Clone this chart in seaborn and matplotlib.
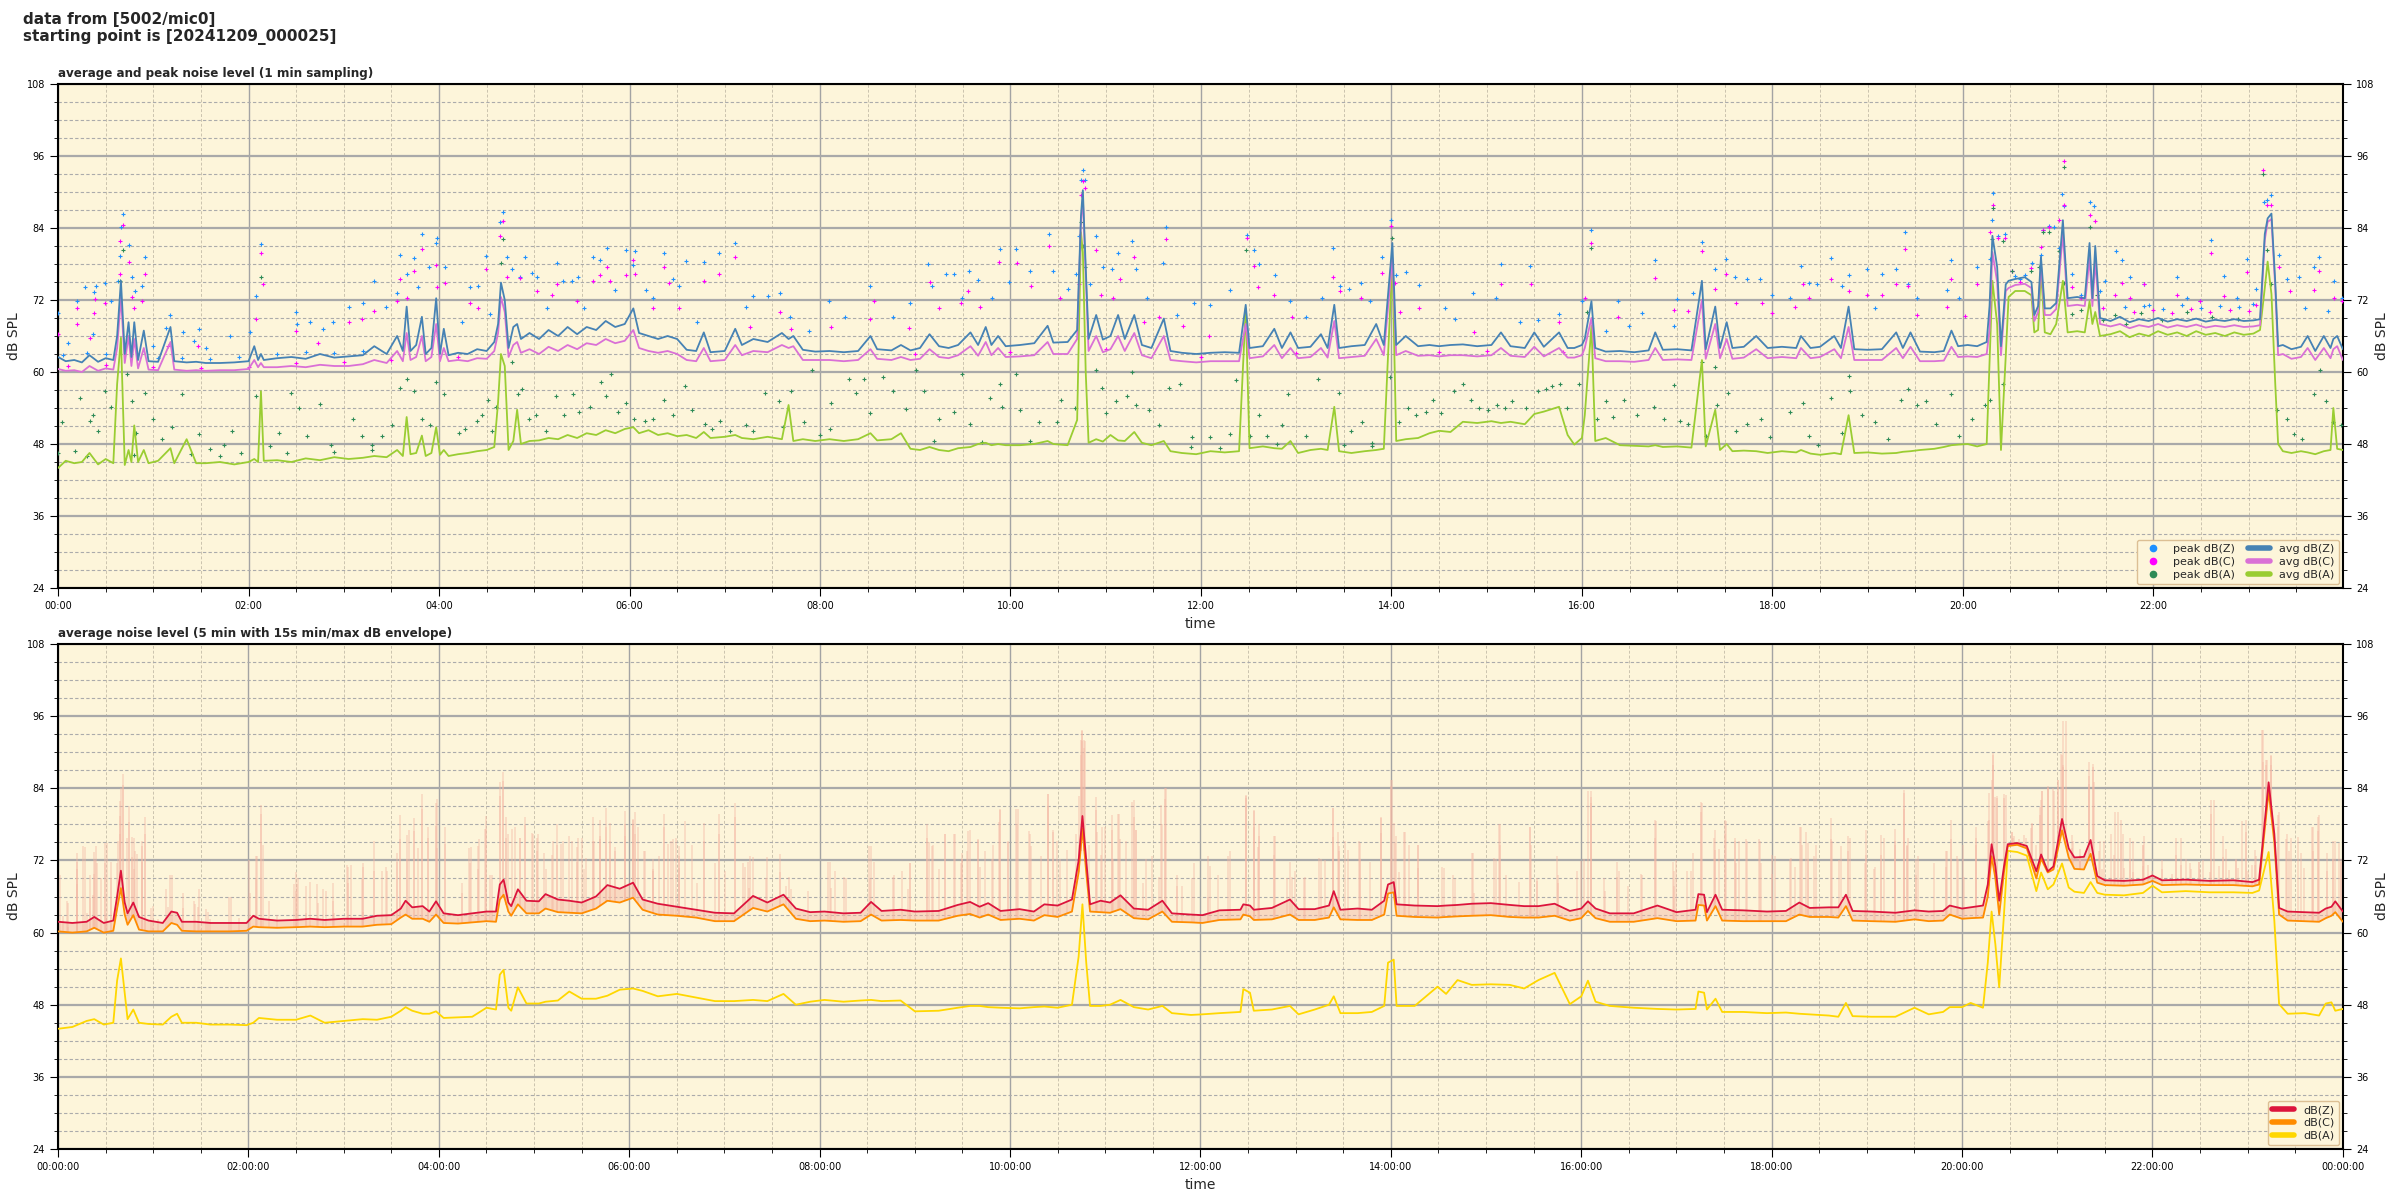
import numpy as np
import pandas as pd
import matplotlib
matplotlib.use("Agg")
import matplotlib.pyplot as plt
import seaborn as sns
from matplotlib.ticker import MultipleLocator, FuncFormatter
from matplotlib.lines import Line2D

# ---------------- data: top panel, 1 min averages (hours, dB) ----------------
top_t = [0.00,0.08,0.17,0.25,0.33,0.42,0.50,0.58,0.62,0.66,
         0.70,0.74,0.77,0.80,0.84,0.90,0.95,1.05,1.18,1.22,
         1.35,1.45,1.55,1.70,1.85,2.00,2.06,2.10,2.13,2.16,
         2.30,2.45,2.60,2.75,2.90,3.05,3.20,3.32,3.45,3.56,
         3.62,3.66,3.70,3.76,3.82,3.86,3.92,3.97,4.01,4.05,
         4.10,4.20,4.30,4.40,4.50,4.58,4.62,4.65,4.69,4.73,
         4.78,4.82,4.86,4.95,5.05,5.15,5.25,5.35,5.45,5.55,
         5.65,5.75,5.85,5.95,6.04,6.10,6.20,6.30,6.40,6.50,
         6.60,6.70,6.78,6.85,7.00,7.11,7.18,7.30,7.45,7.60,
         7.67,7.72,7.82,7.95,8.10,8.25,8.40,8.53,8.60,8.75,
         8.85,8.95,9.05,9.15,9.25,9.35,9.45,9.58,9.66,9.74,
         9.80,9.87,9.95,10.10,10.25,10.39,10.45,10.60,10.70,10.74,
         10.76,10.79,10.82,10.90,10.97,11.05,11.13,11.20,11.30,11.38,
         11.48,11.61,11.68,11.80,11.95,12.10,12.25,12.40,12.47,12.51,
         12.65,12.77,12.85,12.94,13.02,13.15,13.26,13.33,13.40,13.45,
         13.58,13.72,13.84,13.92,14.01,14.05,14.15,14.28,14.40,14.50,
         14.62,14.75,14.90,15.05,15.15,15.25,15.40,15.50,15.60,15.76,
         15.85,15.92,16.00,16.03,16.10,16.14,16.25,16.40,16.55,16.70,
         16.77,16.85,17.00,17.15,17.26,17.30,17.40,17.45,17.52,17.58,
         17.70,17.83,17.95,18.10,18.25,18.30,18.40,18.50,18.65,18.72,
         18.80,18.86,19.00,19.15,19.30,19.37,19.45,19.55,19.70,19.80,
         19.88,19.95,20.05,20.15,20.25,20.28,20.31,20.36,20.40,20.45,
         20.48,20.55,20.65,20.72,20.75,20.79,20.82,20.86,20.92,20.98,
         21.05,21.10,21.20,21.28,21.33,21.36,21.39,21.44,21.55,21.65,
         21.75,21.85,21.95,22.05,22.15,22.25,22.35,22.45,22.55,22.65,
         22.75,22.85,22.95,23.05,23.12,23.17,23.20,23.24,23.28,23.31,
         23.36,23.45,23.55,23.62,23.70,23.79,23.86,23.89,23.93,23.99]
top_z = [62.5,61.8,62.0,61.6,62.8,61.7,62.3,62.0,66.0,75.2,
         63.0,68.3,62.5,68.3,62.0,66.9,61.8,61.7,67.5,61.8,
         61.6,61.7,61.5,61.5,61.6,61.8,64.3,62.0,63.0,62.0,
         62.3,62.5,62.2,63.0,62.4,62.6,62.8,64.3,63.0,66.0,
         63.5,70.9,63.5,64.5,69.2,63.0,64.0,72.3,63.0,67.2,
         62.8,63.2,63.0,63.8,63.5,65.0,68.0,74.9,72.0,64.0,
         67.5,68.0,65.5,66.5,65.5,67.0,66.0,67.5,66.3,67.5,
         67.0,68.5,67.5,68.0,70.6,66.5,66.0,65.5,66.0,65.5,
         63.7,63.5,66.6,63.3,63.5,67.2,64.5,65.5,65.0,66.5,
         65.5,66.0,63.7,63.4,63.5,63.3,63.5,66.0,63.8,63.6,
         64.5,63.6,64.0,66.3,64.3,64.0,64.5,66.6,64.5,67.5,
         64.5,66.0,64.3,64.5,64.8,67.7,64.9,65.0,67.0,86.0,
         90.3,77.5,65.5,69.5,65.4,66.0,69.5,65.5,69.5,64.5,
         64.0,68.9,63.5,63.2,63.0,63.2,63.3,63.2,71.2,64.0,
         64.3,67.2,64.0,66.6,64.0,64.2,66.3,64.0,71.2,64.0,
         64.3,64.5,68.0,64.5,81.5,64.5,66.0,64.3,64.5,64.3,
         64.5,64.6,64.3,64.5,66.6,64.3,64.0,66.6,64.2,66.6,
         64.0,64.0,64.5,65.5,71.8,64.0,63.4,63.5,63.3,63.6,
         66.6,63.7,63.8,63.6,75.2,63.8,70.9,64.0,68.3,64.0,
         64.2,66.0,64.0,64.2,64.0,66.0,64.0,64.2,66.0,64.0,
         70.9,63.8,63.7,63.8,66.6,64.0,66.6,63.4,63.3,63.5,
         66.9,64.3,64.5,64.3,65.0,71.0,82.7,77.5,64.3,74.6,
         75.2,75.5,75.8,75.0,69.5,71.0,79.2,70.6,70.6,71.5,
         85.3,72.3,72.5,72.3,81.5,72.3,81.0,69.0,68.5,69.2,
         68.3,68.8,68.5,69.0,68.4,68.8,68.5,68.9,68.4,68.7,
         68.5,68.8,68.5,68.6,68.8,83.0,85.6,86.4,75.0,64.3,
         64.5,63.8,64.2,66.0,63.5,66.0,64.0,65.5,66.0,63.8]
top_c = [60.5,60.2,60.3,60.0,61.0,60.2,60.6,60.4,64.0,72.5,
         61.5,66.0,61.0,65.5,60.6,64.0,60.4,60.3,65.0,60.4,
         60.2,60.3,60.2,60.3,60.3,60.5,62.0,60.8,61.5,60.8,
         60.8,61.0,60.8,61.2,61.0,61.0,61.3,62.0,61.5,63.5,
         61.8,66.5,62.0,62.5,66.0,61.8,62.5,68.0,61.8,64.0,
         61.8,62.0,61.8,62.3,62.2,63.5,66.5,72.5,70.0,62.5,
         64.5,65.0,63.2,63.8,63.0,64.2,63.5,64.5,63.8,64.8,
         64.5,65.5,64.8,65.2,67.0,64.0,63.5,63.2,63.5,63.0,
         62.0,61.8,64.0,61.8,62.0,64.5,62.8,63.5,63.3,64.5,
         64.0,64.3,62.0,62.0,62.0,61.8,62.0,63.8,62.2,62.0,
         62.5,62.0,62.2,63.8,62.5,62.3,62.8,64.3,62.7,65.0,
         62.8,64.0,62.5,62.6,62.8,65.0,63.0,63.0,65.5,85.0,
         89.0,76.0,63.5,66.0,63.3,63.8,66.0,63.5,66.5,62.8,
         62.3,66.0,62.0,61.8,61.6,61.8,61.8,61.8,68.0,62.3,
         62.6,64.5,62.3,64.0,62.3,62.5,64.0,62.4,68.5,62.3,
         62.5,62.7,65.5,62.8,79.0,62.8,63.5,62.7,62.8,62.6,
         62.8,62.8,62.6,62.8,64.0,62.7,62.5,64.2,62.6,64.0,
         62.4,62.4,62.8,64.0,69.0,62.3,61.8,61.8,61.7,62.0,
         64.0,62.0,62.1,62.0,72.0,62.2,68.0,62.3,65.5,62.2,
         62.4,63.8,62.3,62.5,62.3,64.0,62.3,62.5,63.8,62.3,
         67.5,62.0,62.0,62.0,64.0,62.3,64.2,61.8,61.8,61.9,
         64.2,62.5,62.6,62.5,63.0,67.0,80.0,75.0,62.8,73.5,
         74.0,74.5,74.7,74.0,68.5,70.0,78.0,69.5,69.5,70.5,
         83.0,71.0,71.2,71.0,79.0,71.0,78.5,68.0,67.6,68.0,
         67.3,67.8,67.5,68.0,67.4,67.8,67.5,67.9,67.4,67.7,
         67.5,67.8,67.5,67.6,67.8,82.0,85.0,85.5,74.0,62.8,
         63.0,62.2,62.5,64.0,62.0,64.0,62.3,63.8,64.3,62.0]
top_a = [44.0,45.2,44.8,45.0,46.5,44.6,45.5,44.8,58.0,65.7,
         44.5,47.0,45.0,51.1,45.0,47.0,44.8,45.2,47.3,44.8,
         48.8,44.8,44.8,45.0,44.6,45.0,45.5,45.0,56.8,45.2,
         45.3,45.0,45.6,45.3,45.8,45.5,45.7,46.0,45.8,47.0,
         46.0,52.5,46.3,46.5,49.4,46.0,46.5,50.8,46.2,47.0,
         46.0,46.3,46.5,46.8,47.0,47.5,55.0,63.0,61.0,47.0,
         48.5,53.7,48.0,48.5,48.6,49.0,48.8,49.5,49.0,49.8,
         49.5,50.3,49.8,50.5,50.8,49.8,50.3,49.5,49.8,49.3,
         49.5,49.0,50.0,49.0,49.2,49.5,49.0,48.8,49.2,48.8,
         54.5,48.5,48.8,48.5,48.8,48.5,48.8,49.8,48.6,48.8,
         49.8,47.2,47.0,47.5,47.0,46.8,47.3,47.5,48.0,48.2,
         47.8,48.0,47.8,47.8,48.0,48.5,48.0,47.8,52.0,83.3,
         80.0,60.0,48.2,48.8,48.4,49.5,48.6,48.5,50.0,48.2,
         47.8,48.5,46.8,46.5,46.3,46.8,46.6,46.8,70.6,47.3,
         47.6,47.3,47.2,48.5,46.5,47.0,47.2,47.0,54.2,46.8,
         46.5,46.8,47.0,47.2,78.7,48.5,48.8,49.0,49.8,50.2,
         50.0,51.7,51.5,51.8,51.5,51.7,51.3,53.0,53.4,54.2,
         49.5,47.9,49.0,52.8,67.7,48.5,49.0,47.8,47.7,47.6,
         47.8,47.5,47.6,47.4,62.0,47.6,53.7,47.0,48.0,46.8,
         46.9,46.8,46.5,46.8,46.6,47.0,46.4,46.2,46.5,46.3,
         52.8,46.5,46.6,46.4,46.5,46.7,46.8,47.0,47.2,47.5,
         47.8,47.9,48.0,47.6,48.0,61.4,75.2,68.0,47.0,62.6,
         72.5,73.5,73.5,72.8,66.6,67.0,76.9,66.6,66.3,68.0,
         75.2,66.6,66.8,66.6,71.8,68.0,70.0,66.0,66.3,66.8,
         65.8,66.4,66.0,66.8,66.2,66.6,66.0,66.8,66.2,66.5,
         66.0,66.6,66.2,66.4,67.0,74.0,78.4,73.0,58.0,48.0,
         46.8,46.5,46.8,46.6,46.3,46.8,47.0,54.0,47.2,47.0]

# ---------------- data: top panel, 1 min peaks (hours, dB) ----------------
peak_z = [(0.00,69.8),(0.10,64.9),(0.20,71.8),(0.28,74.2),(0.37,66.3),(0.38,73.4),(0.40,74.4),(0.49,74.9),
          (0.56,71.8),(0.63,75.2),(0.65,79.4),(0.66,84.1),(0.68,86.3),(0.74,81.1),(0.78,75.9),(0.81,73.5),
          (0.88,74.4),(0.91,79.2),(1.00,64.4),(1.13,67.3),(1.18,69.5),(1.31,66.6),(1.43,65.2),(1.48,67.2),
          (1.55,64.0),(1.80,66.0),(2.02,66.6),(2.08,72.7),(2.13,81.3),(2.50,70.0),(2.51,68.0),(2.65,68.4),
          (2.78,67.2),(2.89,68.3),(3.05,70.9),(3.20,71.5),(3.32,75.2),(3.44,70.9),(3.56,73.2),(3.59,79.5),
          (3.66,76.3),(3.74,79.0),(3.78,74.1),(3.82,83.0),(3.89,77.5),(3.97,81.5),(3.98,82.3),(4.06,77.5),
          (4.24,68.3),(4.32,74.1),(4.41,74.4),(4.49,79.4),(4.54,69.6),(4.64,85.0),(4.67,86.7),(4.71,79.2),
          (4.77,77.2),(4.85,75.8),(4.90,79.2),(4.98,76.5),(5.03,75.8),(5.13,70.6),(5.24,78.1),(5.30,75.2),
          (5.40,75.2),(5.46,75.8),(5.52,70.6),(5.62,79.2),(5.69,78.7),(5.76,80.7),(5.85,73.6),(5.96,80.3),
          (6.04,77.9),(6.06,80.1),(6.17,73.6),(6.25,72.3),(6.36,79.8),(6.46,75.5),(6.52,74.4),(6.59,78.5),
          (6.71,68.3),(6.78,78.3),(6.94,79.8),(7.11,81.5),(7.22,70.9),(7.30,72.6),(7.45,72.6),(7.58,73.1),
          (7.68,69.2),(0.05,62.8),(0.30,63.2),(0.50,63.0),(1.05,62.3),(1.30,62.3),(1.60,62.2),(1.90,62.5),
          (2.30,63.0),(2.60,63.3),(2.90,63.2),(3.20,63.5),
          (7.88,66.9),(8.09,71.8),(8.26,69.2),(8.52,74.4),(8.77,69.2),(8.95,71.5),(9.13,78.0),(9.18,74.4),
          (9.32,76.4),(9.41,76.4),(9.49,72.3),(9.56,76.9),(9.66,75.4),(9.81,72.3),(9.89,80.5),(9.98,75.0),
          (10.06,80.5),(10.20,76.9),(10.40,83.0),(10.45,76.8),(10.60,73.8),(10.69,76.4),(10.72,82.7),
          (10.74,92.0),(10.76,93.6),(10.78,92.0),(10.83,74.6),(10.90,82.6),(10.97,77.5),(11.07,77.1),
          (11.13,79.8),(11.28,81.8),(11.32,77.1),(11.43,72.3),(11.60,78.1),(11.63,84.1),(11.75,69.5),
          (11.93,71.5),(12.10,71.1),(12.31,73.6),(12.48,82.8),(12.56,80.3),(12.61,78.0),(12.78,76.1),
          (12.94,71.8),(13.10,69.2),(13.27,72.3),(13.39,80.7),(13.46,74.4),(13.55,73.8),(13.68,74.9),
          (13.78,71.8),(13.90,79.1),(14.00,85.4),(14.05,76.1),(14.15,76.7),(14.29,74.5),(14.56,70.7),
          (14.67,68.9),(14.86,73.2),(15.10,72.3),(15.15,78.0),(15.35,68.4),(15.46,77.6),(15.54,68.6),
          (15.76,69.6),(16.00,71.9),(16.10,83.6),
          (16.25,66.9),(16.38,71.8),(16.49,67.7),(16.63,69.8),(16.77,78.7),(16.97,67.7),(17.00,72.1),
          (17.17,73.2),(17.26,81.7),(17.40,77.1),(17.51,78.8),(17.61,75.8),(17.73,75.5),(17.87,75.5),
          (18.00,72.9),(18.19,72.3),(18.30,77.6),(18.38,74.9),(18.47,74.6),(18.62,79.0),(18.73,74.4),
          (18.80,76.1),(18.99,77.1),(19.08,70.6),(19.15,76.3),(19.30,77.2),(19.39,83.3),(19.42,74.6),
          (19.52,72.3),(19.83,73.6),(19.88,78.7),(19.96,72.3),(20.15,77.5),(20.28,78.8),(20.31,85.3),
          (20.32,89.9),(20.37,82.7),(20.44,83.0),(20.52,76.8),(20.60,75.5),(20.73,78.1),(20.82,79.5),
          (20.84,83.6),(20.90,84.4),(20.96,84.1),(21.01,80.7),(21.04,89.7),(21.06,87.6),(21.15,76.3),
          (21.24,72.9),(21.33,88.3),(21.38,87.6),(21.44,73.5),(21.49,75.2),(21.61,80.1),(21.67,78.7),
          (21.76,75.8),(21.90,74.6),(21.95,71.2),(22.25,75.8),(22.35,72.3),(22.49,71.8),(22.61,82.0),
          (22.74,76.0),(22.88,72.3),(22.98,78.8),(23.08,73.8),(23.16,88.4),(23.19,88.7),(23.24,89.5),
          (23.32,79.5),(23.40,75.5),(23.53,75.9),(23.59,70.7),(23.69,77.5),(23.74,79.2),(23.83,70.2),
          (23.90,75.2),(23.98,72.3),(21.70,70.8),(21.90,71.0),(22.10,70.5),(22.30,71.2),(22.50,70.6),
          (22.70,71.0),(22.90,70.8),(23.05,71.3),(20.55,76.0),(20.65,76.2)]

peak_c = [(0.00,66.3),(0.20,68.0),(0.20,70.6),(0.38,69.8),(0.39,72.1),(0.34,65.7),(0.49,71.5),(0.65,76.4),
          (0.65,81.9),(0.68,84.5),(0.74,78.4),(0.78,72.5),(0.80,70.6),(0.88,71.8),(0.91,76.4),(1.15,64.3),
          (1.47,64.3),(2.08,68.9),(2.13,79.8),(2.15,74.6),(2.50,66.9),(2.73,64.9),(3.05,68.3),(3.19,68.9),
          (3.32,70.2),(3.56,71.8),(3.59,75.5),(3.66,72.3),(3.74,76.9),(3.82,80.5),(3.97,77.8),(3.98,74.1),
          (4.06,74.8),(4.33,71.5),(4.41,70.6),(4.49,77.2),(4.64,82.7),(4.67,85.2),(4.71,75.8),(4.85,75.7),
          (5.03,73.5),(5.19,72.9),(5.24,74.6),(5.45,71.8),(5.62,75.2),(5.69,76.1),(5.76,77.5),(5.80,75.2),
          (5.96,76.1),(6.04,78.7),(6.06,76.4),(6.25,70.6),(6.36,77.5),(6.41,74.8),(6.52,70.7),(6.78,75.2),
          (6.94,76.4),(7.11,79.2),(7.26,67.5),(7.58,70.0),(7.70,67.2),(0.10,61.0),(0.50,61.2),(1.00,60.8),
          (1.50,60.6),(2.00,60.9),(2.50,61.5),(3.00,61.6),(3.50,62.0),(4.20,62.5),
          (8.12,67.5),(8.53,68.9),(8.57,71.8),(8.93,67.3),(9.15,75.0),(9.25,70.6),(9.48,71.5),(9.55,73.5),
          (9.68,70.9),(9.88,78.4),(10.07,78.1),(10.22,74.4),(10.40,81.0),(10.52,72.3),(10.72,74.6),
          (10.74,89.5),(10.76,91.8),(10.78,90.7),(10.90,80.4),(10.95,72.9),(11.08,72.3),(11.15,75.5),
          (11.30,79.2),(11.40,68.3),(11.56,69.2),(11.63,82.2),(11.81,67.7),(12.08,66.0),(12.48,82.4),
          (12.56,77.6),(12.60,74.2),(12.77,72.9),(12.96,69.2),(13.39,75.9),(13.46,73.5),(13.68,72.3),
          (13.90,76.5),(14.00,84.4),(14.04,74.9),(14.09,70.0),(14.29,70.7),(14.87,66.6),(15.15,74.6),
          (15.47,74.6),(15.76,68.3),(16.03,72.3),(16.10,81.5),(9.00,63.0),(10.00,63.3),(11.00,63.8),
          (12.00,62.5),(13.00,63.2),(14.50,63.4),(15.00,63.5),(15.80,63.3),
          (16.38,69.2),(16.77,75.7),(16.97,70.3),(17.11,70.2),(17.26,80.1),(17.40,73.8),(17.51,76.4),
          (17.62,71.5),(17.89,71.5),(18.00,69.8),(18.24,70.9),(18.32,74.6),(18.38,72.3),(18.62,75.5),
          (18.80,73.5),(18.99,72.9),(19.15,72.9),(19.30,74.6),(19.39,80.5),(19.42,74.4),(19.52,69.5),
          (19.83,70.9),(19.88,75.5),(20.02,69.3),(20.15,74.6),(20.28,83.3),(20.32,87.9),(20.37,82.4),
          (20.44,82.4),(20.52,76.8),(20.72,77.4),(20.82,80.9),(20.84,83.6),(20.90,84.1),(21.01,85.3),
          (21.06,95.2),(21.06,87.9),(21.15,74.1),(21.24,72.3),(21.33,86.1),(21.39,85.1),(21.47,70.6),
          (21.60,72.9),(21.67,74.9),(21.76,72.3),(21.90,74.6),(22.25,72.9),(22.49,71.8),(22.61,79.8),
          (22.74,72.6),(22.98,76.7),(23.08,71.2),(23.15,93.7),(23.19,87.9),(23.24,87.9),(23.32,77.5),
          (23.43,73.5),(23.69,73.6),(23.74,76.9),(23.90,72.3),(23.98,71.8),(21.80,70.0),(22.00,70.3),
          (22.20,69.8),(22.40,70.5),(22.60,70.0),(22.80,70.4),(23.00,70.2),(20.60,75.0)]

peak_a = [(0.00,46.5),(0.04,51.7),(0.18,46.8),(0.23,55.7),(0.34,51.9),(0.37,52.8),(0.42,50.2),(0.49,56.8),
          (0.56,54.2),(0.65,75.2),(0.68,80.4),(0.72,59.7),(0.78,55.1),(0.82,49.9),(0.91,56.5),(1.00,52.2),
          (1.09,48.8),(1.20,50.8),(1.30,56.4),(1.48,49.6),(1.59,47.1),(1.74,47.9),(1.83,50.2),(1.92,46.5),
          (2.08,56.0),(2.13,75.8),(2.22,47.6),(2.32,49.9),(2.45,56.5),(2.53,54.0),(2.61,49.4),(2.75,54.7),
          (2.87,47.9),(3.10,52.1),(3.19,49.4),(3.30,47.9),(3.40,49.4),(3.51,51.1),(3.59,57.4),(3.66,58.8),
          (3.74,56.8),(3.82,52.2),(3.90,51.1),(3.97,58.3),(4.05,56.3),(4.21,49.9),(4.27,50.5),(4.40,51.9),
          (4.45,52.8),(4.51,55.4),(4.56,50.2),(4.60,54.2),(4.65,78.1),(4.67,82.1),(4.77,61.7),(4.83,56.3),
          (4.87,57.1),(4.94,52.2),(5.02,52.8),(5.12,50.2),(5.23,56.0),(5.31,52.8),(5.41,56.3),(5.47,53.4),
          (5.58,54.2),(5.70,58.3),(5.75,56.0),(5.81,59.7),(5.88,53.4),(5.96,54.8),(6.05,52.2),(6.16,51.9),
          (6.25,52.2),(6.36,55.4),(6.46,52.8),(6.58,57.7),(6.66,53.7),(6.79,51.4),(6.87,50.5),(6.95,51.9),
          (7.06,50.2),(7.22,51.1),(7.30,50.2),(7.42,56.5),(7.57,55.1),(7.61,50.8),(7.70,56.9),(0.30,46.0),
          (0.80,46.2),(1.40,46.3),(1.70,46.0),(2.40,46.5),(2.90,46.7),(3.30,47.0),
          (7.83,51.7),(7.92,60.3),(8.11,50.5),(8.12,54.8),(8.30,58.8),(8.38,56.5),(8.46,58.8),(8.53,53.1),
          (8.66,59.1),(8.77,56.9),(8.90,53.8),(9.01,60.3),(9.09,56.8),(9.25,52.2),(9.41,53.4),(9.49,59.7),
          (9.58,51.4),(9.79,55.7),(9.89,58.0),(9.91,54.2),(10.06,59.7),(10.10,53.7),(10.30,51.7),
          (10.49,51.7),(10.53,55.4),(10.68,54.0),(10.74,85.0),(10.76,81.0),(10.78,77.5),(10.90,60.4),
          (10.96,57.4),(11.00,53.1),(11.11,55.1),(11.22,56.0),(11.28,60.0),(11.32,54.5),(11.45,53.7),
          (11.56,51.1),(11.66,57.4),(11.78,58.0),(11.91,49.1),(12.10,49.1),(12.31,49.6),(12.37,58.6),
          (12.47,80.4),(12.51,49.4),(12.61,52.8),(12.69,49.4),(12.85,51.1),(12.91,56.3),(13.10,49.4),
          (13.23,58.8),(13.45,56.5),(13.58,50.2),(13.69,51.7),(13.80,48.2),(13.98,59.1),(14.01,82.4),
          (14.08,51.7),(14.17,54.0),(14.26,52.8),(14.36,53.4),(14.44,55.4),(14.52,53.1),(14.66,56.8),
          (14.75,58.0),(14.84,55.4),(14.92,54.0),(15.01,53.7),(15.11,54.5),(15.19,54.0),(15.27,55.1),
          (15.41,54.0),(15.54,56.8),(15.62,57.1),(15.69,57.7),(15.77,58.0),(15.84,54.0),(15.97,58.0),
          (16.05,70.0),(16.10,80.7),(16.16,52.2),(8.00,49.5),(9.20,48.5),(9.70,48.3),(10.20,48.5),
          (11.90,47.5),(12.20,47.4),(12.80,48.0),(13.50,47.8),(13.80,47.6),
          (16.25,55.1),(16.33,52.5),(16.44,55.4),(16.58,52.8),(16.76,54.2),(16.86,52.2),(16.97,57.8),
          (17.03,51.9),(17.11,51.4),(17.26,61.7),(17.30,49.4),(17.40,60.9),(17.42,54.5),(17.53,56.5),
          (17.62,50.2),(17.73,51.4),(17.88,52.2),(17.97,49.1),(18.19,53.4),(18.32,54.8),(18.38,49.4),
          (18.48,47.9),(18.62,55.7),(18.73,49.9),(18.80,59.4),(18.82,56.8),(18.94,52.8),(19.08,51.7),
          (19.21,48.8),(19.35,55.4),(19.42,57.1),(19.52,54.5),(19.61,55.1),(19.72,51.4),(19.88,56.4),
          (19.96,49.4),(20.10,52.2),(20.23,54.5),(20.28,55.4),(20.31,82.1),(20.32,87.3),(20.42,81.8),
          (20.42,58.0),(20.52,76.9),(20.72,76.9),(20.80,77.5),(20.84,83.3),(20.90,83.3),(21.01,80.1),
          (21.06,94.1),(21.06,74.9),(21.15,69.6),(21.24,70.3),(21.33,84.1),(21.41,72.9),(21.47,68.6),
          (21.60,69.5),(21.71,68.0),(21.87,69.8),(22.09,68.6),(22.35,70.0),(22.62,69.2),(22.89,68.9),
          (23.15,93.0),(23.19,80.4),(23.24,74.6),(23.30,53.7),(23.40,52.2),(23.48,49.6),(23.56,48.8),
          (23.69,56.3),(23.75,60.3),(23.81,55.1),(23.89,51.7),(23.97,51.1)]

# ---------------- data: bottom panel, 5 min averages (hours, dB) ----------------
bot_t = [0.00,0.15,0.30,0.38,0.48,0.58,0.62,0.66,0.70,0.73,
         0.79,0.85,0.95,1.10,1.19,1.25,1.30,1.45,1.60,1.80,
         1.98,2.05,2.11,2.30,2.50,2.65,2.80,3.00,3.20,3.35,
         3.50,3.60,3.65,3.72,3.83,3.90,3.97,4.05,4.20,4.35,
         4.50,4.60,4.64,4.68,4.73,4.76,4.83,4.92,5.05,5.12,
         5.25,5.37,5.50,5.65,5.77,5.90,6.04,6.14,6.30,6.50,
         6.70,6.90,7.10,7.30,7.45,7.62,7.75,7.90,8.05,8.25,
         8.43,8.54,8.65,8.85,9.00,9.25,9.45,9.58,9.68,9.77,
         9.90,10.10,10.25,10.36,10.50,10.65,10.72,10.76,10.80,10.84,
         10.95,11.05,11.16,11.30,11.45,11.60,11.70,11.90,12.02,12.20,
         12.42,12.45,12.52,12.56,12.75,12.94,13.03,13.20,13.35,13.40,
         13.47,13.65,13.80,13.93,13.97,14.03,14.06,14.25,14.49,14.58,
         14.70,14.85,15.05,15.25,15.40,15.55,15.72,15.88,16.00,16.07,
         16.15,16.30,16.55,16.80,17.00,17.20,17.23,17.29,17.32,17.41,
         17.48,17.70,17.95,18.15,18.29,18.40,18.60,18.70,18.78,18.85,
         19.05,19.30,19.50,19.65,19.80,19.87,20.00,20.09,20.22,20.27,
         20.31,20.35,20.39,20.44,20.48,20.58,20.68,20.78,20.83,20.90,
         20.96,21.05,21.12,21.18,21.28,21.35,21.42,21.50,21.70,21.90,
         22.00,22.10,22.35,22.60,22.85,23.05,23.12,23.22,23.28,23.33,
         23.42,23.60,23.75,23.82,23.88,23.92,24.00]
bot_z = [61.8,61.6,61.8,62.6,61.6,62.0,66.0,70.3,65.0,63.2,
         65.0,62.6,62.0,61.6,63.5,63.3,61.8,61.8,61.6,61.6,
         61.6,62.8,62.3,62.0,62.1,62.3,62.1,62.3,62.3,62.8,
         62.9,64.0,65.3,64.2,64.4,63.5,65.2,63.2,62.9,63.2,
         63.5,63.5,68.0,68.8,65.0,64.4,67.2,65.3,65.2,66.4,
         65.5,65.3,65.0,66.0,67.9,67.3,68.3,65.5,64.8,64.3,
         63.8,63.3,63.2,66.1,65.0,66.3,64.0,63.4,63.5,63.2,
         63.3,65.1,63.6,63.8,63.5,63.6,64.6,65.1,64.3,64.9,
         63.6,63.9,63.5,64.7,64.5,65.5,72.0,79.4,72.0,64.7,
         65.3,65.0,66.2,64.0,63.8,65.3,63.2,63.0,62.9,63.7,
         63.8,64.7,64.5,63.8,64.1,65.5,63.9,63.9,64.5,66.9,
         63.8,64.0,63.8,65.3,68.0,68.4,64.7,64.5,64.4,64.5,
         64.6,64.8,64.9,64.6,64.4,64.4,64.8,63.6,64.0,65.2,
         64.0,63.2,63.2,64.5,63.4,63.8,66.4,66.3,63.4,66.3,
         63.8,63.7,63.5,63.6,65.0,64.1,64.2,64.2,66.3,63.6,
         63.5,63.3,63.7,63.5,63.6,64.5,64.0,64.2,64.5,68.0,
         74.7,71.0,65.3,71.0,74.7,74.9,74.4,70.2,73.0,70.2,
         71.0,78.9,74.0,72.5,72.6,75.4,69.4,68.7,68.6,68.8,
         69.5,68.7,68.8,68.6,68.7,68.4,68.8,85.0,76.4,64.1,
         63.5,63.4,63.3,64.0,64.3,65.2,63.5]
bot_c = [60.2,60.0,60.2,60.8,60.0,60.3,64.0,67.4,63.0,61.3,
         62.9,60.5,60.2,60.2,61.6,61.3,60.3,60.2,60.2,60.2,
         60.3,61.0,60.9,60.8,60.9,61.0,60.9,61.0,61.0,61.3,
         61.4,62.5,63.0,62.3,62.3,61.8,63.0,61.6,61.5,61.7,
         61.9,61.8,65.5,66.3,63.5,62.8,64.7,63.2,63.2,64.0,
         63.4,63.3,63.2,64.0,65.3,65.0,65.8,63.8,63.0,62.8,
         62.5,61.9,61.9,64.1,63.5,64.7,62.3,61.9,62.0,61.8,
         61.9,63.0,62.0,62.1,62.0,62.0,62.8,63.1,62.5,63.0,
         62.1,62.3,62.0,62.9,62.6,63.5,70.0,77.3,70.0,63.5,
         63.4,63.3,63.9,62.4,62.2,63.5,61.8,61.7,61.6,62.1,
         62.2,63.0,62.7,62.1,62.2,63.0,62.1,62.1,62.5,64.2,
         62.2,62.1,62.1,63.0,66.5,66.7,62.8,62.6,62.5,62.6,
         62.7,62.8,62.9,62.6,62.5,62.5,62.8,62.0,62.4,63.6,
         62.4,61.8,61.8,62.4,61.9,62.0,64.6,64.5,62.0,64.4,
         62.0,61.9,61.9,61.9,63.0,62.6,62.6,62.5,64.4,62.0,
         61.9,61.8,62.2,61.9,62.0,63.0,62.3,62.4,62.5,66.0,
         72.7,69.0,63.0,70.0,74.4,74.6,74.0,69.0,72.3,70.0,
         70.5,77.0,72.5,70.6,70.5,73.1,68.3,67.9,67.8,68.0,
         68.6,67.9,68.0,67.9,67.9,67.7,68.0,83.5,75.0,63.0,
         62.0,61.9,61.8,62.4,62.8,63.4,61.8]
bot_a = [44.0,44.3,45.3,45.6,44.7,45.0,52.0,55.7,50.0,45.6,
         47.2,45.0,44.8,44.7,46.0,46.5,45.0,45.0,44.7,44.7,
         44.6,45.0,45.8,45.5,45.5,46.2,45.0,45.3,45.6,45.5,
         46.0,47.0,47.6,47.0,46.5,46.5,46.9,45.8,45.9,46.0,
         47.5,47.2,53.0,53.8,47.5,47.0,50.9,48.2,48.2,48.5,
         48.7,50.2,49.0,49.0,49.5,50.5,50.7,50.3,49.4,49.8,
         49.2,48.6,48.6,48.8,48.6,49.8,48.0,48.5,48.8,48.5,
         48.7,48.8,48.6,48.7,46.9,47.0,47.5,47.8,47.8,47.6,
         47.5,47.4,47.6,47.7,47.5,48.0,56.0,64.7,55.0,47.8,
         47.8,48.0,48.8,47.6,47.2,47.8,46.6,46.3,46.4,46.6,
         46.8,50.6,50.0,47.0,47.2,47.8,46.4,47.2,48.0,49.4,
         46.6,46.6,46.8,47.8,55.0,55.5,47.8,47.8,51.0,49.8,
         52.1,51.3,51.4,51.3,50.7,52.1,53.3,48.1,49.4,52.0,
         48.5,47.8,47.5,47.3,47.2,47.3,50.2,50.0,47.2,49.0,
         46.8,46.8,46.6,46.7,46.5,46.4,46.2,46.0,48.3,46.1,
         46.0,46.0,47.5,46.4,46.8,47.6,47.6,48.3,47.5,55.0,
         63.5,58.0,50.9,63.0,73.6,73.4,72.8,66.9,70.0,67.2,
         68.0,71.5,67.5,66.8,66.6,68.4,66.6,66.3,66.2,66.6,
         67.8,66.7,66.9,66.7,66.7,66.6,67.0,73.4,62.0,48.1,
         46.5,46.6,46.2,48.2,48.4,47.0,47.3]

# ---------------- data: bottom panel, 15 s max-envelope spikes (hours, dB) ----------------
env_spikes = [(0.02,69.6),(0.09,65.3),(0.20,73.3),(0.26,74.4),(0.34,69.6),(0.41,71.6),(0.45,69.1),
              (0.51,74.9),(0.56,69.0),(0.62,71.5),(0.72,75.8),(0.80,75.8),(0.83,73.0),(0.88,75.2),
              (0.98,64.1),(1.20,69.6),(1.31,64.1),(1.44,64.7),(1.58,63.5),(1.82,65.9),(2.01,72.1),
              (2.09,72.7),(2.22,65.3),(2.48,68.1),(2.52,69.0),(2.60,67.8),(2.72,68.1),(2.81,66.9),
              (2.89,65.3),(3.04,71.2),(3.08,71.2),(3.20,70.9),(3.40,70.3),(3.46,70.3),(3.69,77.0),
              (3.89,75.8),(4.24,66.6),(4.34,74.3),(4.42,75.5),(4.48,77.3),(4.56,69.6),(4.73,76.4),
              (4.80,77.6),(4.90,77.9),(4.99,76.4),(5.04,76.4),(5.10,73.3),(5.20,75.2),(5.28,74.7),
              (5.37,76.1),(5.45,74.3),(5.50,75.8),(5.55,72.4),(5.63,75.2),(5.69,75.5),(5.80,78.3),
              (5.85,74.3),(5.96,78.0),(6.04,78.9),(6.09,77.6),(6.15,73.6),(6.25,70.3),(6.31,72.7),
              (6.44,75.2),(6.49,75.8),(6.52,72.7),(6.66,74.6),(6.90,71.5),(7.01,70.3),(7.19,71.5),
              (7.25,71.8),(7.27,72.7),(7.44,69.0),(7.65,67.8),
              (8.11,71.8),(8.16,70.3),(8.28,69.0),(8.54,74.4),(8.78,69.6),(8.86,70.3),(8.95,71.5),
              (9.13,75.8),(9.19,74.6),(9.32,76.4),(9.42,76.4),(9.50,73.3),(9.58,77.0),(9.66,75.5),
              (9.74,73.6),(9.82,74.6),(9.89,80.4),(9.98,75.2),(10.08,80.6),(10.21,76.4),(10.33,72.7),
              (10.40,83.1),(10.45,77.0),(10.49,75.2),(10.76,93.7),(10.79,91.8),(10.91,76.7),(11.00,77.6),
              (11.07,79.5),(11.14,79.8),(11.22,75.2),(11.30,82.0),(11.32,77.0),(11.49,72.7),(11.59,81.3),
              (11.64,84.1),(11.75,67.8),(11.91,69.0),(12.08,72.7),(12.18,69.6),(12.29,72.7),(12.48,82.9),
              (12.56,80.4),(12.61,76.1),(12.77,76.1),(12.91,69.0),(12.99,70.3),(13.09,69.0),(13.25,72.4),
              (13.31,72.1),(13.39,80.7),(13.44,76.7),(13.52,75.2),(13.67,75.2),(13.90,79.2),(14.01,85.3),
              (14.03,78.3),(14.14,76.7),(14.19,74.6),(14.28,74.6),(14.54,70.9),(14.65,69.6),(14.85,73.3),
              (15.08,72.4),(15.14,78.0),(15.21,69.6),(15.46,77.6),(15.53,69.0),(15.75,72.7),(15.96,70.3),
              (16.07,83.5),(16.10,82.6),
              (16.24,69.0),(16.40,70.3),(16.64,69.6),(16.78,78.6),(16.96,71.8),(17.15,70.3),(17.27,81.6),
              (17.39,75.8),(17.45,73.9),(17.52,78.6),(17.61,75.2),(17.66,75.2),(17.74,75.2),(17.88,75.2),
              (18.04,72.7),(18.20,72.4),(18.31,77.6),(18.36,76.7),(18.44,72.7),(18.63,75.2),(18.71,72.1),
              (18.82,75.8),(18.98,71.5),(19.09,70.9),(19.18,75.8),(19.30,75.2),(19.39,83.8),(19.43,75.8),
              (19.54,72.7),(19.70,71.5),(19.84,73.6),(19.95,72.7),(20.01,74.6),(20.15,75.8),(20.27,78.6),
              (20.32,89.6),(20.35,82.6),(20.46,82.9),(20.54,75.8),(20.67,75.8),(20.73,78.3),(20.78,74.6),
              (20.83,82.0),(20.90,84.1),(20.97,83.5),(21.01,85.3),(21.05,89.6),(21.09,95.2),(21.16,75.2),
              (21.24,73.9),(21.33,84.7),(21.37,88.1),(21.45,75.2),(21.56,76.4),(21.64,80.1),(21.69,76.4),
              (21.80,75.2),(21.91,76.1),(22.10,72.1),(22.30,75.8),(22.39,71.5),(22.53,72.1),(22.65,82.0),
              (22.77,73.9),(22.88,72.1),(22.94,78.6),(23.09,72.7),(23.16,93.7),(23.20,88.7),(23.25,89.3),
              (23.33,80.1),(23.41,76.4),(23.46,75.8),(23.56,73.3),(23.68,77.6),(23.75,79.5),(23.83,73.3),
              (23.92,75.2),(23.96,74.9)]

for nm, arr, ref in [("top_z", top_z, top_t), ("top_c", top_c, top_t), ("top_a", top_a, top_t),
                     ("bot_z", bot_z, bot_t), ("bot_c", bot_c, bot_t), ("bot_a", bot_a, bot_t)]:
    if len(arr) != len(ref):
        raise SystemExit(f"{nm}: {len(arr)} vs {len(ref)}")

top_labels_peak = ["peak dB(Z)", "peak dB(C)", "peak dB(A)"]
top_labels_avg = ["avg dB(Z)", "avg dB(C)", "avg dB(A)"]
bot_labels = ["dB(Z)", "dB(C)", "dB(A)"]

# ---------------- styling ----------------
sns.set_theme(style="white")
plt.rcParams["font.family"] = ["DejaVu Sans"]
BG = "#fdf5da"

C_PZ, C_PC, C_PA = "#1e90ff", "#ff00ff", "#2e8b57"
C_AZ, C_AC, C_AA = "#4682b4", "#da70d6", "#9acd32"
C_BZ, C_BC, C_BA = "#dc143c", "#ff8c00", "#ffd700"
C_ENV = "#f4b8a4"

fig = plt.figure(figsize=(24, 12), dpi=100)
ax1 = fig.add_axes([0.0242, 0.51, 0.952, 0.42])
ax2 = fig.add_axes([0.0242, 0.0425, 0.952, 0.4208])


def style(ax, fmt, xmax):
    ax.set_facecolor(BG)
    ax.set_xlim(0, xmax)
    ax.set_ylim(24, 108)
    ax.yaxis.set_major_locator(MultipleLocator(12))
    ax.yaxis.set_minor_locator(MultipleLocator(3))
    ax.xaxis.set_major_locator(MultipleLocator(2))
    ax.xaxis.set_minor_locator(MultipleLocator(0.5))
    ax.xaxis.set_major_formatter(FuncFormatter(fmt))
    ax.grid(which="major", axis="y", color="#a9a9a9", lw=1.6, ls="-")
    ax.grid(which="minor", axis="y", color="#ababab", lw=0.8, ls=(0, (3, 2)))
    ax.grid(which="major", axis="x", color="#a3a3a3", lw=1.0, ls="-")
    ax.grid(which="minor", axis="x", color="#cbc3ae", lw=0.7, ls=(0, (3, 2)))
    ax.set_axisbelow(True)
    for s in ax.spines.values():
        s.set_color("black")
        s.set_linewidth(1.5)
    ax.tick_params(which="both", direction="out", left=True, right=True, bottom=True,
                   labelleft=True, labelright=True, labelsize=7, colors="black")
    ax.tick_params(which="major", length=6, width=0.8)
    ax.tick_params(which="minor", length=3, width=0.6)


style(ax1, lambda x, p: f"{int(round(x)) % 24:02d}:00", 23.99)
style(ax2, lambda x, p: f"{int(round(x)) % 24:02d}:00:00", 24.0)

# ---------------- top panel ----------------
for pts, col in [(peak_z, C_PZ), (peak_c, C_PC), (peak_a, C_PA)]:
    d = pd.DataFrame(pts, columns=["t", "v"])
    sns.scatterplot(data=d, x="t", y="v", ax=ax1, marker="+", s=9, color=col,
                    linewidth=0.8, legend=False, zorder=3)

for vals, col in [(top_a, C_AA), (top_c, C_AC), (top_z, C_AZ)]:
    sns.lineplot(x=top_t, y=vals, ax=ax1, color=col, lw=1.3, estimator=None,
                 sort=False, legend=False, zorder=4)

ax1.set_title("average and peak noise level (1 min sampling)", loc="left", fontsize=9.5,
              fontweight="bold", fontstretch="condensed", pad=5)

h1 = [Line2D([], [], ls="", marker="o", ms=4.5, color=c) for c in (C_PZ, C_PC, C_PA)]
h1 += [Line2D([], [], color=c, lw=4) for c in (C_AZ, C_AC, C_AA)]
leg1 = ax1.legend(h1, top_labels_peak + top_labels_avg, ncol=2, loc="lower right",
                  fontsize=8, frameon=True, facecolor=BG, edgecolor="#dcbf94",
                  framealpha=1, borderaxespad=0.35, handlelength=2.0, columnspacing=1.2,
                  labelspacing=0.25)

# ---------------- bottom panel ----------------
ax2.fill_between(bot_t, bot_c, bot_z, color=C_ENV, alpha=0.45, lw=0, zorder=2)
env = pd.DataFrame(peak_z + peak_c + env_spikes, columns=["t", "v"])
env_base = np.interp(env["t"], bot_t, bot_c)
ax2.vlines(env["t"], env_base, env["v"], color=C_ENV, alpha=0.5, lw=1.1, zorder=2)

for vals, col in [(bot_a, C_BA), (bot_c, C_BC), (bot_z, C_BZ)]:
    sns.lineplot(x=bot_t, y=vals, ax=ax2, color=col, lw=1.3, estimator=None,
                 sort=False, legend=False, zorder=4)

ax2.set_title("average noise level (5 min with 15s min/max dB envelope)", loc="left",
              fontsize=9.5, fontweight="bold", fontstretch="condensed", pad=5)
h2 = [Line2D([], [], color=c, lw=4) for c in (C_BZ, C_BC, C_BA)]
leg2 = ax2.legend(h2, bot_labels, loc="lower right", fontsize=8, frameon=True,
                  facecolor=BG, edgecolor="#dcbf94", framealpha=1, borderaxespad=0.35,
                  handlelength=2.0, labelspacing=0.25)

for ax in (ax1, ax2):
    ax.set_xlabel("time", fontsize=10)
    ax.set_ylabel("dB SPL", fontsize=10)
    pos = ax.get_position()
    fig.text(0.9925, (pos.y0 + pos.y1) / 2, "dB SPL", rotation=90, ha="center",
             va="center", fontsize=10)

fig.text(0.0096, 0.99, "data from [5002/mic0]\nstarting point is [20241209_000025]",
         ha="left", va="top", fontsize=11, fontweight="bold")

fig.savefig("out.png", dpi=100, facecolor="white")
